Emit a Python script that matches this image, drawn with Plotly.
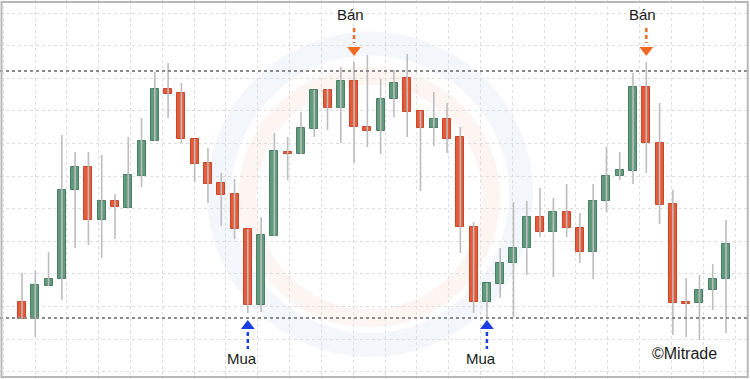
import plotly.graph_objects as go

# ---- data (price units) ----
opens  = [98,81,114,121,210,233,180,199,192,224,259,311,307,261,237,217,206,171,95,164,
          248,246,271,310,292,319,273,269,301,322,289,272,281,263,173,98,116,137,152,183,
          168,188,172,148,199,224,229,313,257,196,97,97,110,121]
highs  = [127,130,148,265,248,248,245,206,263,282,328,337,317,261,252,227,221,171,183,267,
          263,288,310,311,333,338,345,321,330,346,289,308,297,273,178,117,152,198,199,212,
          202,216,187,216,253,248,327,338,297,210,122,125,136,180]
lows   = [81,63,114,100,152,155,142,161,192,213,259,282,257,218,197,174,161,87,88,164,
          220,246,263,270,257,237,253,246,283,263,209,254,247,147,87,83,102,83,125,163,
          123,163,137,121,188,220,216,227,176,65,63,60,90,67]
closes = [81,115,121,210,233,180,199,193,225,259,311,306,261,236,216,205,171,95,165,249,
          246,272,310,292,319,273,269,301,317,288,272,281,261,173,98,117,137,152,183,168,
          188,172,148,199,224,230,313,257,195,97,96,110,121,156]

support_level = 82
resistance_level = 329
sell_idx = [25, 47]
buy_idx = [17, 35]
sell_label = "Bán"
buy_label = "Mua"
brand = "©Mitrade"

# ---- styles ----
GREEN, GREEN_D = "#5f9a7c", "#4b7f64"
RED, RED_D = "#e55a38", "#c8472b"
WICK = "#bdbdbd"
ORANGE = "#f26a22"
BLUE = "#1c3fe4"
FONT = dict(size=15, color="#1a1a1a", family="Liberation Sans, Arial")

n = len(opens)
xs = list(range(n))

fig = go.Figure()

# wicks
wx, wy = [], []
for i in xs:
    wx += [i, i, None]
    wy += [lows[i], highs[i], None]
fig.add_trace(go.Scatter(x=wx, y=wy, mode="lines",
                         line=dict(color=WICK, width=1.6), hoverinfo="skip", showlegend=False))

# bodies
base = [min(o, c) for o, c in zip(opens, closes)]
height = [max(abs(c - o), 1.6) for o, c in zip(opens, closes)]
fill = [GREEN if c >= o else RED for o, c in zip(opens, closes)]
edge = [GREEN_D if c >= o else RED_D for o, c in zip(opens, closes)]
fig.add_trace(go.Bar(x=xs, y=height, base=base, width=0.6,
                     marker=dict(color=fill, line=dict(color=edge, width=1)),
                     showlegend=False))

# signal arrows (dashed shafts + heads)
for i in sell_idx:
    fig.add_trace(go.Scatter(x=[i, i], y=[372, 357], mode="lines",
                             line=dict(color=ORANGE, width=2.5, dash="4px,3px"),
                             showlegend=False, hoverinfo="skip"))
    fig.add_trace(go.Scatter(x=[i], y=[350], mode="markers",
                             marker=dict(symbol="triangle-down", size=12, color=ORANGE),
                             showlegend=False, hoverinfo="skip"))
    fig.add_annotation(x=i - 0.3, y=386, text=sell_label, showarrow=False,
                       xanchor="center", yanchor="middle", font=FONT)
for i in buy_idx:
    fig.add_trace(go.Scatter(x=[i, i], y=[68, 51], mode="lines",
                             line=dict(color=BLUE, width=2.5, dash="4px,3px"),
                             showlegend=False, hoverinfo="skip"))
    fig.add_trace(go.Scatter(x=[i], y=[74], mode="markers",
                             marker=dict(symbol="triangle-up", size=12, color=BLUE),
                             showlegend=False, hoverinfo="skip"))
    fig.add_annotation(x=i - 0.45, y=42, text=buy_label, showarrow=False,
                       xanchor="center", yanchor="middle", font=FONT)

fig.add_annotation(x=0.912, y=0.066, xref="paper", yref="paper", text=brand, showarrow=False,
                   xanchor="center", yanchor="middle",
                   font=dict(size=16, color="#1a1a1a", family="Liberation Sans, Arial"))

shapes = []
# faint watermark logo
shapes.append(dict(type="circle", xref="paper", yref="paper",
                   x0=0.292, x1=0.695, y0=0.09, y1=0.885, layer="below",
                   line=dict(color="rgba(215,228,246,0.30)", width=24)))
shapes.append(dict(type="circle", xref="paper", yref="paper",
                   x0=0.33, x1=0.655, y0=0.16, y1=0.80, layer="below",
                   line=dict(color="rgba(248,214,204,0.25)", width=18)))
# support / resistance
for lvl in (support_level, resistance_level):
    shapes.append(dict(type="line", xref="paper", x0=0, x1=1, y0=lvl, y1=lvl,
                       line=dict(color="#8a8a8a", width=2, dash="dot")))
# frame
shapes.append(dict(type="rect", xref="paper", yref="paper", x0=0.002, x1=0.997, y0=0.005, y1=0.995,
                   line=dict(color="#b8b8b8", width=2)))

fig.update_layout(
    width=750, height=379, margin=dict(l=0, r=0, t=0, b=0),
    paper_bgcolor="white", plot_bgcolor="white",
    shapes=shapes, bargap=0, barmode="overlay",
    xaxis=dict(range=[-1.656, 54.806], showticklabels=False, zeroline=False,
               showgrid=True, gridcolor="#dedede", griddash="dot", gridwidth=1,
               tick0=0.979, dtick=2.3955, ticks="", fixedrange=True),
    yaxis=dict(range=[21, 400], showticklabels=False, zeroline=False,
               showgrid=True, gridcolor="#dedede", griddash="dot", gridwidth=1,
               tick0=61, dtick=32.6, ticks="", fixedrange=True),
)

fig.write_html("out.html")
